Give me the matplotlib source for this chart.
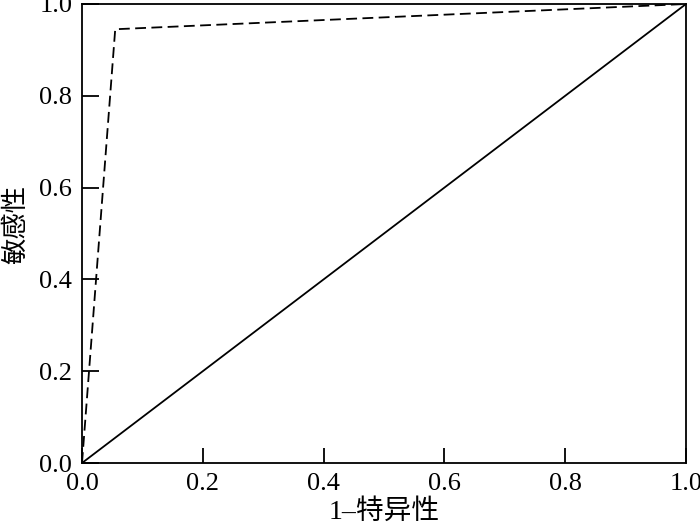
import numpy as np
import matplotlib
matplotlib.use("Agg")
import matplotlib.pyplot as plt

plt.rcParams['font.family'] = ['Liberation Serif', 'Noto Sans CJK SC']
plt.rcParams['font.size'] = 19

# ROC curve points
fpr = [0.0, 0.055, 1.0]
tpr = [0.0, 0.945, 1.0]
ref = [0.0, 1.0]
ticks = [0.0, 0.2, 0.4, 0.6, 0.8, 1.0]
tick_labels = ['0.0', '0.2', '0.4', '0.6', '0.8', '1.0']

fig = plt.figure(figsize=(7, 5.28), dpi=100)
ax = fig.add_axes([82 / 700, 65 / 528, 604 / 700, 459 / 528])

ax.plot(fpr, tpr, color='black', linestyle=(0, (6, 3)), linewidth=1.3)
ax.plot(ref, ref, color='black', linestyle='-', linewidth=1.3)

ax.set_xlim(0, 1)
ax.set_ylim(0, 1)
ax.set_xticks(ticks)
ax.set_xticklabels(tick_labels)
ax.set_yticks(ticks)
ax.set_yticklabels(tick_labels)
ax.tick_params(axis='x', direction='in', length=11, width=1.3, pad=7)
ax.tick_params(axis='y', direction='in', length=12, width=1.3, pad=7)
for s in ax.spines.values():
    s.set_linewidth(1.3)

ax.set_xlabel('1–特异性', fontsize=20, labelpad=3)
ax.set_ylabel('敏感性', family=['Noto Sans CJK SC'], fontsize=19)
ax.yaxis.set_label_coords(-0.088, 0.52)

plt.savefig('out.png', dpi=100)
